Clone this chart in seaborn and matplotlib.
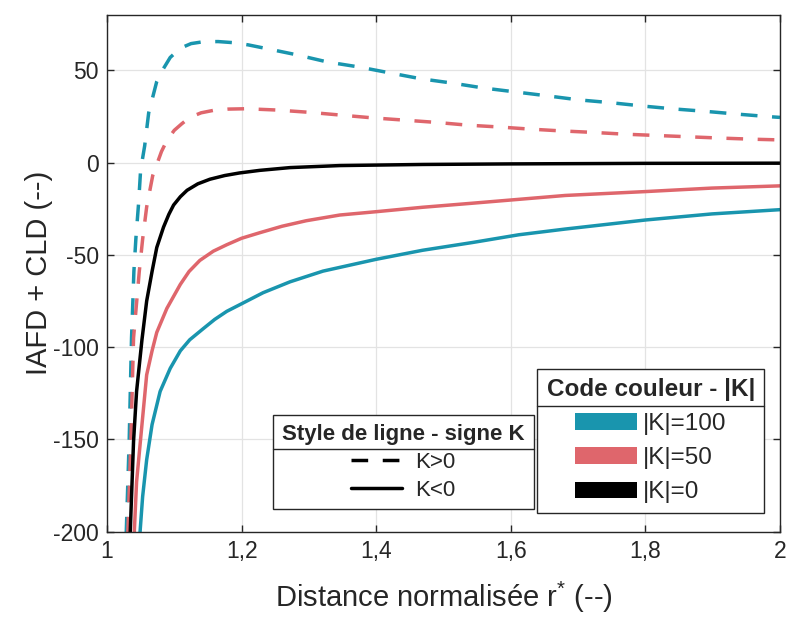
import pandas as pd
import matplotlib.pyplot as plt
import seaborn as sns
from matplotlib.lines import Line2D
from matplotlib.patches import Patch
from matplotlib.transforms import IdentityTransform

# values
r_k0 = [1.0345, 1.0395, 1.044, 1.052, 1.059, 1.067, 1.074, 1.084, 1.092, 1.099,
        1.109, 1.119, 1.135, 1.153, 1.175, 1.197, 1.227, 1.272, 1.346, 1.47,
        1.6, 1.8, 2.0]
y_k0 = [-201, -151, -124, -96, -75, -59, -46, -35, -28, -23,
        -18.5, -15, -11.5, -9, -7, -5.6, -4.2, -2.7, -1.6, -1,
        -0.7, -0.4, -0.3]

r_m50 = [1.0405, 1.044, 1.052, 1.059, 1.067, 1.074, 1.089, 1.109, 1.122, 1.138,
         1.158, 1.178, 1.2, 1.227, 1.26, 1.296, 1.346, 1.4, 1.469, 1.543,
         1.612, 1.681, 1.8, 1.899, 2.0]
y_m50 = [-201, -173, -142, -115, -102, -92, -79, -66, -59, -53,
         -48, -44.5, -41, -38, -34.5, -31.5, -28.4, -26.6, -24.2, -22,
         -19.9, -17.8, -15.7, -13.8, -12.6]

r_m100 = [1.049, 1.053, 1.059, 1.067, 1.079, 1.094, 1.109, 1.123, 1.143, 1.16,
          1.178, 1.2, 1.232, 1.272, 1.321, 1.4, 1.469, 1.543, 1.612, 1.681,
          1.8, 1.899, 2.0]
y_m100 = [-201, -181, -161, -142, -124, -111.5, -102, -96, -90, -85,
          -80.6, -76.5, -70.5, -64.6, -58.8, -52.4, -47.5, -43.3, -39.1, -36,
          -31.1, -27.8, -25.5]

r_p100 = [1.0286, 1.033, 1.0365, 1.0385, 1.040, 1.043, 1.047, 1.050, 1.056, 1.062,
          1.074, 1.079, 1.094, 1.109, 1.125, 1.143, 1.165, 1.188, 1.21, 1.237,
          1.281, 1.328, 1.375, 1.422, 1.467, 1.513, 1.560, 1.607, 1.654, 1.701,
          1.748, 1.795, 1.842, 1.889, 1.936, 1.984, 2.0]
y_p100 = [-201, -151, -95, -75, -59, -41, -22, -4, 9, 27,
          44, 48, 57, 62, 64.5, 65.5, 65.6, 65, 63.8, 61.8,
          58.5, 54.5, 51.8, 48.5, 45.4, 43.1, 40.4, 38.3, 36.2, 34,
          32.5, 30.7, 29.1, 27.8, 26.3, 24.9, 24.5]

r_p50 = [1.031, 1.0355, 1.0395, 1.044, 1.048, 1.053, 1.059, 1.068, 1.081, 1.089,
         1.1, 1.111, 1.123, 1.14, 1.158, 1.18, 1.207, 1.252, 1.299, 1.346,
         1.393, 1.439, 1.489, 1.536, 1.583, 1.627, 1.674, 1.721, 1.770, 1.817,
         1.864, 1.911, 1.958, 2.0]
y_p50 = [-201, -151, -95, -76, -59, -41.5, -24, -7, 6, 12,
         17.5, 21, 24.5, 27, 28.3, 29, 29.2, 28.5, 27.3, 25.8,
         24.3, 23.1, 21.8, 20.3, 19.3, 18.2, 17.2, 16.4, 15.4, 14.7,
         14, 13.3, 12.7, 12.3]

k_labels = ["|K|=100", "|K|=50", "|K|=0"]
sign_labels = ["K>0", "K<0"]
colors = {"|K|=100": "#1995ae", "|K|=50": "#df666c", "|K|=0": "#000000"}

curves = [
    (r_p100, y_p100, "|K|=100", "K>0"),
    (r_p50, y_p50, "|K|=50", "K>0"),
    (r_m100, y_m100, "|K|=100", "K<0"),
    (r_m50, y_m50, "|K|=50", "K<0"),
    (r_k0, y_k0, "|K|=0", "K<0"),
]
df = pd.concat([pd.DataFrame({"r": r, "val": y, "absK": k, "signe": s})
                for r, y, k, s in curves], ignore_index=True)

sns.set_style("whitegrid", {"grid.color": "#e3e3e3", "axes.edgecolor": "#262626"})
plt.rcParams["font.family"] = ["Liberation Sans", "DejaVu Sans"]
plt.rcParams["mathtext.fontset"] = "custom"
plt.rcParams["mathtext.rm"] = "Liberation Sans"
plt.rcParams["mathtext.it"] = "Liberation Sans"
plt.rcParams["axes.unicode_minus"] = False

fig = plt.figure(figsize=(7.9, 6.17), dpi=100)
ax = fig.add_axes([0.1354, 0.1383, 0.8519, 0.8374])

lw = 2.5
dash = (4.8, 4.2)
sns.lineplot(data=df, x="r", y="val", hue="absK", style="signe",
             hue_order=k_labels, style_order=sign_labels, palette=colors,
             dashes={"K>0": dash, "K<0": ""}, linewidth=lw,
             estimator=None, sort=True, legend=False, ax=ax)

ax.set_xlim(1, 2)
ax.set_ylim(-200, 80)
ax.set_xticks([1, 1.2, 1.4, 1.6, 1.8, 2])
ax.set_xticklabels(["1", "1,2", "1,4", "1,6", "1,8", "2"])
ax.set_yticks([-200, -150, -100, -50, 0, 50])
ax.tick_params(direction="in", length=5, width=1, colors="#262626",
               labelsize=16.5, top=True, right=True, bottom=True, left=True, pad=6)
ax.grid(True, color="#e3e3e3", linewidth=0.9)
for sp in ax.spines.values():
    sp.set_color("#262626")
    sp.set_linewidth(1)

ax.set_xlabel("Distance normalisée r$^{*}$ (--)", fontsize=21, color="#262626", labelpad=12)
ax.set_ylabel("IAFD + CLD (--)", fontsize=21, color="#262626", labelpad=0)

style_handles = [Line2D([], [], color="black", lw=lw, dashes=dash),
                 Line2D([], [], color="black", lw=lw)]
leg1 = ax.legend(style_handles, sign_labels, title="Style de ligne - signe K",
                 loc="lower left", bbox_to_anchor=(0.247, 0.043), borderaxespad=0,
                 fontsize=16, title_fontproperties={"weight": "bold", "size": 16},
                 handlelength=2.3, handletextpad=0.6, labelspacing=0.3,
                 borderpad=0.4, fancybox=False, framealpha=1,
                 edgecolor="#262626")
leg1.get_frame().set_linewidth(1)
ax.add_artist(leg1)

color_handles = [Patch(facecolor=colors[k], edgecolor="none") for k in k_labels]
leg2 = ax.legend(color_handles, k_labels, title="Code couleur - |K|",
                 loc="lower right", bbox_to_anchor=(0.9767, 0.037), borderaxespad=0,
                 fontsize=17.5, title_fontproperties={"weight": "bold", "size": 17.5},
                 handlelength=2.55, handleheight=0.66, handletextpad=0.25,
                 labelspacing=0.5, borderpad=0.38, fancybox=False, framealpha=1,
                 edgecolor="#262626")
leg2.get_frame().set_linewidth(1)

# separator under each legend title
fig.canvas.draw()
renderer = fig.canvas.get_renderer()
for leg, gap in ((leg1, 3.5), (leg2, 5)):
    fb = leg.get_frame().get_window_extent(renderer)
    tb = leg.get_title().get_window_extent(renderer)
    y = tb.y0 - gap
    fig.add_artist(Line2D([fb.x0, fb.x1], [y, y], transform=IdentityTransform(),
                          color="#262626", lw=1))

fig.savefig("out.png", dpi=100)
